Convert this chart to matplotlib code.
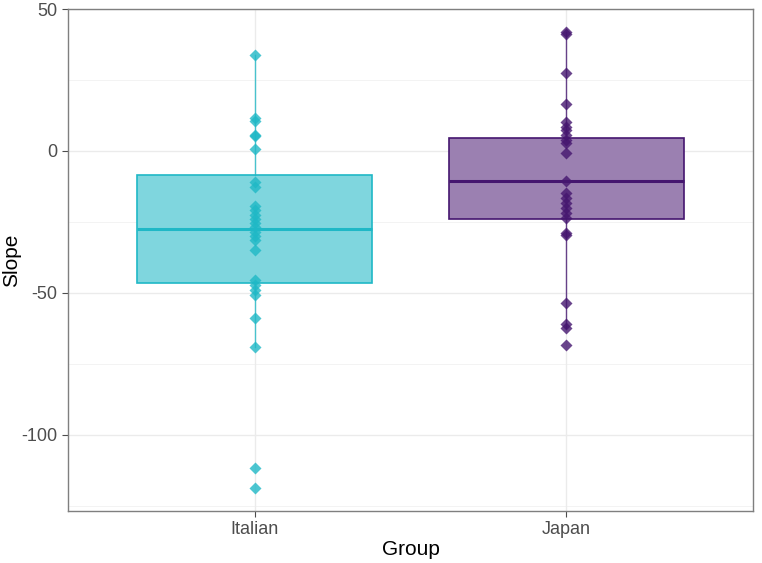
import matplotlib
matplotlib.use("Agg")
import matplotlib.pyplot as plt
import numpy as np

plt.rcParams["font.family"] = ["Liberation Sans", "DejaVu Sans"]

# data
groups = ["Italian", "Japan"]
italian = [33.8, 11.5, 10.7, 5.6, 5.2, 0.7, -10.8, -12.6, -19.3, -20.8, -22.5,
           -24.0, -25.5, -26.9, -28.4, -29.9, -31.3, -34.9, -45.4, -47.2,
           -48.9, -50.7, -58.9, -69.2, -111.7, -118.8]
japan = [42.0, 41.2, 27.3, 16.4, 10.3, 8.6, 7.4, 5.6, 3.9, 2.8, -0.8, -10.5,
         -14.9, -16.7, -18.4, -20.2, -21.9, -23.7, -29.0, -29.6, -53.4, -61.0,
         -62.5, -68.3]
q1 = [-46.5, -23.9]
med = [-27.5, -10.6]
q3 = [-8.5, 4.6]
whislo = [-69.2, -62.5]
whishi = [33.8, 42.0]
colors = ["#1FB8C6", "#45166F"]
fills = ["#7FD6DE", "#9B80B1"]


def _main():
    fig = plt.figure(figsize=(7.62, 5.63), dpi=100)
    ax = fig.add_axes([0.0892, 0.0924, 0.8990, 0.8916])

    # grid
    for y in [-100, -50, 0, 50]:
        ax.axhline(y, color="#ebebeb", lw=1.0, zorder=0)
    for y in [-125, -75, -25, 25]:
        ax.axhline(y, color="#f3f3f3", lw=0.7, zorder=0)
    for x in [1, 2]:
        ax.axvline(x, color="#ebebeb", lw=1.0, zorder=0)

    pts = [italian, japan]
    for i, vals in enumerate(pts):
        stats = [dict(med=med[i], q1=q1[i], q3=q3[i], whislo=whislo[i],
                      whishi=whishi[i], fliers=[])]
        ax.bxp(stats, positions=[i + 1], widths=0.755, patch_artist=True,
               showcaps=False,
               boxprops=dict(facecolor=fills[i], edgecolor=colors[i], lw=1.2),
               medianprops=dict(color=colors[i], lw=2.2),
               whiskerprops=dict(color=colors[i], lw=1.0, alpha=0.8))
        ax.plot(np.full(len(vals), i + 1), vals, linestyle="none", marker="D",
                ms=6.5, color=colors[i], alpha=0.8, mec="none", zorder=4)

    ax.set_xlim(0.4, 2.6)
    ax.set_ylim(-126.8, 50)
    ax.set_xticks([1, 2])
    ax.set_xticklabels(groups)
    ax.set_yticks([-100, -50, 0, 50])
    ax.set_yticklabels(["-100", "-50", "0", "50"])
    ax.tick_params(colors="#4d4d4d", labelsize=13, length=4, width=0.8)
    for s in ax.spines.values():
        s.set_color("#7f7f7f")
        s.set_linewidth(1.0)
    ax.set_xlabel("Group", fontsize=15)
    ax.set_ylabel("Slope", fontsize=15)
    ax.xaxis.set_label_coords(0.5, -0.058)
    ax.yaxis.set_label_coords(-0.068, 0.5)

    fig.savefig("out.png", dpi=100)
    return 0


if __name__ == "__main__":
    _main()
